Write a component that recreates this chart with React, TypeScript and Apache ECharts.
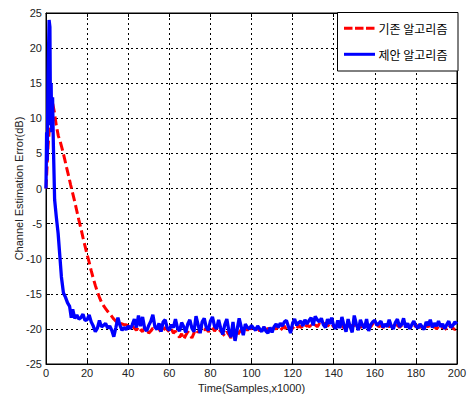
import React, { useEffect, useRef } from "react";
import * as echarts from "echarts";

const xTicks = [0, 20, 40, 60, 80, 100, 120, 140, 160, 180, 200];
const yTicks = [-25, -20, -15, -10, -5, 0, 5, 10, 15, 20, 25];

const seriesNames = ["기존 알고리즘", "제안 알고리즘"];
const seriesColors = ["#ff0000", "#0000ff"];

// Conventional algorithm (red dashed): early part [x, y]
const redEarlyX = [0, 1, 2, 3, 4, 5, 6, 7, 8, 9, 10, 11, 12, 13, 14, 15, 16, 17, 18, 19, 20, 21, 22, 23, 24, 25, 26, 27, 28, 29, 30, 31, 32, 33, 34, 35, 36, 37, 38, 39, 40];
const redEarlyY = [0, 6, 10, 12.5, 11, 9, 7.5, 6.6, 5.5, 4.3, 3, 1.8, 0.5, -0.7, -1.9, -3.2, -4.5, -5.7, -7, -8.2, -9.4, -10.5, -11.7, -12.8, -13.8, -14.7, -15.5, -16.2, -16.7, -17.1, -17.5, -17.8, -18.2, -18.6, -18.9, -19.1, -19.2, -19.3, -19.4, -19.4, -19.6];
// Red tail: x = 41..200 step 1
const redTailStart = 41;
const redTail = [
  -19.8, -19.6, -19.9, -20.2, -19.7, -20.1, -20.4, -19.8, -20.0, -20.6,
  -20.3, -19.9, -20.2, -19.7, -20.0, -20.5, -20.2, -19.8, -20.1, -20.4,
  -20.0, -20.6, -20.3, -20.9, -21.2, -20.7, -21.5, -20.9, -20.4, -20.8,
  -21.3, -20.6, -20.1, -20.5, -20.0, -19.7, -20.2, -19.9, -20.4, -20.1,
  -19.8, -20.3, -19.9, -20.5, -20.2, -20.7, -21.0, -20.4, -20.8, -21.3,
  -20.6, -21.5, -21.0, -20.5, -20.1, -20.4, -19.9, -20.2, -19.8, -20.0,
  -19.7, -20.1, -19.9, -20.3, -20.0, -19.8, -20.2, -19.9, -20.3, -20.1,
  -19.8, -20.0, -19.7, -20.2, -19.9, -19.6, -20.1, -19.8, -20.3, -19.9,
  -19.6, -19.9, -19.5, -19.8, -19.6, -19.9, -19.4, -19.7, -19.5, -19.8,
  -19.4, -19.7, -19.3, -19.6, -19.4, -19.2, -19.6, -19.3, -19.7, -19.5,
  -19.8, -19.4, -19.7, -19.5, -19.9, -19.6, -19.3, -19.8, -19.5, -19.4,
  -19.7, -19.5, -19.8, -19.4, -19.6, -19.9, -19.5, -19.7, -19.3, -19.5,
  -19.4, -19.7, -19.5, -19.8, -19.6, -19.3, -19.7, -19.5, -19.9, -19.6,
  -19.4, -19.8, -19.5, -19.3, -19.7, -19.5, -19.9, -19.6, -19.4, -19.7,
  -19.5, -19.8, -19.6, -19.9, -19.5, -19.7, -19.4, -19.8, -19.6, -20.0,
  -19.7, -19.5, -19.9, -19.6, -20.2, -19.8, -19.5, -19.9, -20.1, -19.8,
];

// Proposed algorithm (blue solid): early part [x, y]
const blueEarlyX = [0, 0.3, 0.6, 1, 1.5, 1.9, 2.2, 2.5, 2.8, 3.2, 3.6, 4.2, 5, 5.9, 6.7, 7.5, 8.5, 9.5, 10.5, 11.5, 12.3, 13];
const blueEarlyY = [0, 8, 4, 16, 24, 23, 9, 15, 8, 13, 6, -1.6, -4, -6.4, -9.5, -12.6, -14.9, -15.5, -16.3, -16.8, -18.4, -17.2];
// Blue tail: x = 14..200 step 1
const blueTailStart = 14;
const blueTail = [
  -18.5, -18.0, -18.6, -18.4, -17.9, -18.8, -18.7,
  -18.0, -19.0, -19.6, -20.4, -19.9, -18.8, -19.7, -19.5, -19.2, -19.9,
  -19.6, -20.2, -21.1, -19.8, -18.4, -19.5, -20.2, -19.8, -20.1, -19.6,
  -20.0, -19.4, -18.6, -19.8, -18.1, -19.6, -18.3, -19.9, -20.3, -19.5,
  -18.9, -18.0, -19.7, -20.1, -19.2, -20.4, -19.0, -18.7, -19.9, -20.2,
  -19.4, -19.8, -18.6, -19.9, -20.3, -19.1, -19.7, -20.5, -19.3, -18.7,
  -19.9, -20.4, -18.2, -19.4, -20.6, -19.0, -18.5, -19.8, -20.2, -18.9,
  -18.3, -19.6, -20.0, -18.7, -19.9, -20.8, -19.4, -18.6, -20.3, -21.2,
  -19.0, -21.7, -20.1, -18.5, -19.7, -20.9, -19.3, -19.8, -20.0, -19.5,
  -19.9, -20.2, -19.6, -20.0, -20.4, -19.7, -20.3, -20.6, -19.8, -20.5,
  -19.7, -19.3, -19.8, -19.2, -19.6, -19.0, -18.8, -19.7, -20.6, -19.2,
  -18.6, -19.5, -19.1, -18.9, -19.6, -18.7, -19.3, -18.8, -18.4, -19.5,
  -18.2, -18.7, -19.0, -18.5, -19.4, -19.8, -18.6, -19.3, -18.4, -19.6,
  -20.0, -18.8, -19.9, -18.3, -19.5, -20.4, -18.6, -19.7, -20.5, -18.1,
  -19.3, -20.2, -18.7, -19.5, -19.9, -18.6, -20.3, -19.4, -19.0, -18.8,
  -19.5, -19.2, -18.9, -19.8, -19.3, -19.7, -18.7, -19.6, -20.0, -19.1,
  -18.6, -19.7, -19.4, -18.5, -19.8, -19.2, -20.0, -19.4, -18.9, -19.6,
  -19.9, -19.3, -19.7, -20.1, -19.0, -19.5, -18.7, -19.8, -19.2, -19.6,
  -18.9, -19.7, -19.3, -20.0, -19.4, -18.9, -19.8, -19.5, -19.0, -19.3,
];

function buildSeries(ex: number[], ey: number[], start: number, tail: number[]) {
  const pts: number[][] = ex.map((x, i) => [x, ey[i]]);
  tail.forEach((v, i) => pts.push([start + i, v]));
  return pts;
}

const FONT = "Liberation Sans, Arial, sans-serif";
const KFONT = "Noto Sans CJK KR, sans-serif";

export default function App() {
  const ref = useRef<HTMLDivElement>(null);
  useEffect(() => {
    if (!ref.current) return;
    const chart = echarts.init(ref.current, null, { renderer: "svg" });
    const gridLine = { show: true, lineStyle: { color: "#000", type: [2, 3] as any, width: 1 } };
    const tickStyle = { show: true, inside: true, length: 4, lineStyle: { color: "#000" } };
    const axisLine = { show: true, onZero: false, lineStyle: { color: "#000" } };

    const lgX = 337.5, lgY = 12.5, lgW = 120.5, lgH = 58.5;
    const rowY = [28.3, 54.3];
    const legendGraphics: any[] = [
      { type: "rect", shape: { x: lgX, y: lgY, width: lgW, height: lgH }, style: { fill: "#fff", stroke: "#000", lineWidth: 1 }, z: 100 },
    ];
    seriesNames.forEach((name, i) => {
      legendGraphics.push({
        type: "line",
        shape: { x1: 344, y1: rowY[i], x2: 375, y2: rowY[i] },
        style: { stroke: seriesColors[i], lineWidth: 3, lineDash: i === 0 ? [8.5, 2.5] : null },
        z: 101,
      });
      legendGraphics.push({
        type: "text",
        x: 378.5,
        y: rowY[i],
        style: { text: name, fontSize: 12, fontFamily: KFONT, fill: "#000", verticalAlign: "middle", align: "left" },
        z: 101,
      });
    });

    chart.setOption({
      animation: false,
      backgroundColor: "#fff",
      textStyle: { fontFamily: FONT },
      grid: {
        left: 46, right: 16, top: 13, bottom: 31,
        containLabel: false,
        outerBoundsMode: "none",
        show: true, borderColor: "#000", borderWidth: 1, backgroundColor: "#fff",
      },
      graphic: legendGraphics,
      xAxis: [
        {
          type: "value",
          min: 0,
          max: 200,
          interval: 20,
          name: "Time(Samples,x1000)",
          nameLocation: "middle",
          nameGap: 18,
          nameMoveOverlap: false,
          nameTextStyle: { fontSize: 11, color: "#222", fontFamily: FONT },
          axisLine,
          axisTick: tickStyle,
          axisLabel: { fontSize: 11, color: "#222", margin: 3, fontFamily: FONT, formatter: (v: number) => (xTicks.includes(v) ? String(v) : "") },
          splitLine: gridLine,
        },
        {
          type: "value",
          position: "top",
          min: 0,
          max: 200,
          interval: 20,
          axisLine,
          axisTick: tickStyle,
          axisLabel: { show: false },
          splitLine: { show: false },
        },
      ],
      yAxis: [
        {
          type: "value",
          min: -25,
          max: 25,
          interval: 5,
          name: "Channel Estimation Error(dB)",
          nameLocation: "middle",
          nameGap: 22,
          nameMoveOverlap: false,
          nameTextStyle: { fontSize: 11, color: "#222", fontFamily: FONT },
          axisLine,
          axisTick: tickStyle,
          axisLabel: { fontSize: 11, color: "#222", margin: 4, fontFamily: FONT, formatter: (v: number) => (yTicks.includes(v) ? String(v) : "") },
          splitLine: gridLine,
        },
        {
          type: "value",
          position: "right",
          min: -25,
          max: 25,
          interval: 5,
          axisLine,
          axisTick: tickStyle,
          axisLabel: { show: false },
          splitLine: { show: false },
        },
      ],
      series: [
        {
          name: seriesNames[0],
          type: "line",
          showSymbol: false,
          symbol: "none",
          data: buildSeries(redEarlyX, redEarlyY, redTailStart, redTail),
          lineStyle: { color: seriesColors[0], width: 3, type: [9, 4] as any },
          itemStyle: { color: seriesColors[0] },
          z: 2,
        },
        {
          name: seriesNames[1],
          type: "line",
          showSymbol: false,
          symbol: "none",
          data: buildSeries(blueEarlyX, blueEarlyY, blueTailStart, blueTail),
          lineStyle: { color: seriesColors[1], width: 3.3 },
          itemStyle: { color: seriesColors[1] },
          z: 3,
        },
      ],
    });
    return () => chart.dispose();
  }, []);
  return <div ref={ref} style={{ width: 473, height: 395, position: "absolute", left: 0, top: 0 }} />;
}
